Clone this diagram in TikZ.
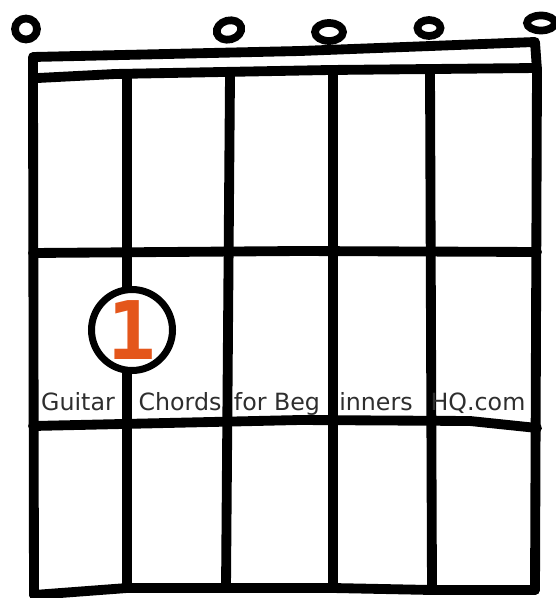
\documentclass[tikz,border=0pt]{standalone}
\usepackage{fontspec}
\usetikzlibrary{shapes.geometric}
\setsansfont{DejaVu Sans}
\newfontfamily\digitfont{DejaVu Sans Mono}
\definecolor{fingerorange}{HTML}{E4561B}
\definecolor{inkgray}{HTML}{2E2E2E}
\tikzset{
  ink/.style={line width=5.6pt,line cap=round,line join=round},
  openring/.style={ellipse,draw,line width=4.4pt,inner sep=0pt},
  finger/.style={circle,draw,fill=white,line width=4pt,minimum size=1.62cm,inner sep=0pt},
  label/.style={font=\sffamily\fontsize{13.5}{13.5}\selectfont,text=inkgray,inner sep=0pt,anchor=base}
}
\begin{document}
\begin{tikzpicture}[x=0.02cm,y=-0.02cm]
\useasboundingbox (0,0) rectangle (555,598);

% nut
\draw[ink] (33,82) -- (33,57) -- (300,51) -- (535,42) -- (537,70);
\draw[ink] (38,78) -- (115,74) -- (330,70) -- (537,68);

% strings
\coordinate (t1) at (33,82);   \coordinate (b1) at (34,595);
\coordinate (t2) at (127,76);  \coordinate (b2) at (127,588);
\coordinate (t3) at (230,76);  \coordinate (b3) at (226,588);
\coordinate (t4) at (333,74);  \coordinate (b4) at (333,588);
\coordinate (t5) at (430,72);  \coordinate (b5) at (432,590);
\coordinate (t6) at (537,70);  \coordinate (b6) at (535,590);
\foreach \s in {1,...,6}
  \draw[ink] (t\s) -- (b\s);

% frets
\draw[ink] (33,253) -- (300,251) -- (537,252);
\draw[ink] (33,426) -- (300,420) -- (470,421) -- (537,428);
\draw[ink] (b1) -- (b2) -- (b3) -- (b4) -- (b5) -- (b6);

% open strings
\node[openring,minimum width=0.44cm,minimum height=0.42cm] (1) at (26,29) {};
\node[openring,minimum width=0.5cm,minimum height=0.38cm,rotate=15] (3) at (229,30) {};
\node[openring,minimum width=0.56cm,minimum height=0.36cm] (4) at (329,32) {};
\node[openring,minimum width=0.46cm,minimum height=0.32cm] (5) at (429,28) {};
\node[openring,minimum width=0.56cm,minimum height=0.3cm] (6) at (541,23) {};

% finger
\node[finger] (f) at (132,330) {};
\node[text=fingerorange,font=\digitfont\bfseries\fontsize{46}{46}\selectfont] at (f) {1};

% watermark
\node[label] (w1) at (78,410) {Guitar};
\node[label] (w2) at (180,410) {Chords};
\node[label] (w3) at (277,410) {for Beg};
\node[label] (w4) at (376,410) {inners};
\node[label] (w5) at (478,410) {HQ.com};
\end{tikzpicture}
\end{document}
